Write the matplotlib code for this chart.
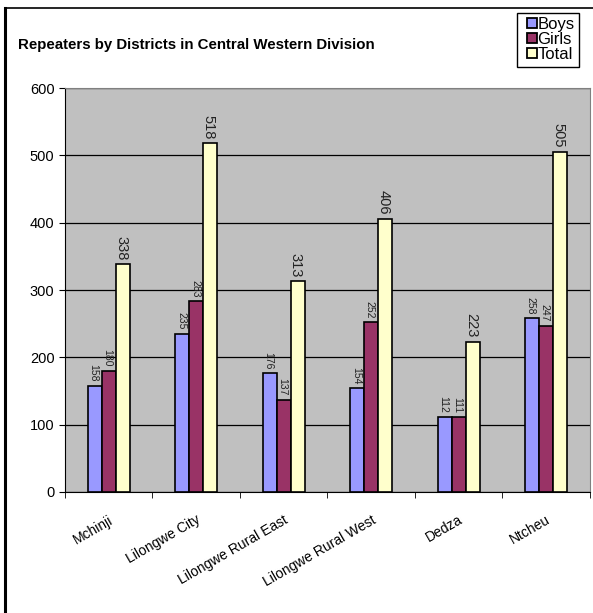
import matplotlib.pyplot as plt
import numpy as np
from matplotlib.lines import Line2D

districts = ['Mchinji', 'Lilongwe City', 'Lilongwe Rural East',
             'Lilongwe Rural West', 'Dedza', 'Ntcheu']
boys = [158, 235, 176, 154, 112, 258]
girls = [180, 283, 137, 252, 111, 247]
total = [338, 518, 313, 406, 223, 505]

plt.rcParams['font.family'] = ['Liberation Sans', 'DejaVu Sans']

fig = plt.figure(figsize=(5.93, 6.13), dpi=100)
ax = fig.add_axes([0.1096, 0.1974, 0.885, 0.659])
ax.set_facecolor('#C0C0C0')

x = np.arange(len(districts))
w = 0.16
colors = ['#9999FF', '#993366', '#FFFFCC']
series = [(boys, -w, 7.5), (girls, 0, 7.5), (total, w, 10.5)]
for (vals, off, fs), col in zip(series, colors):
    ax.bar(x + off, vals, w, color=col, edgecolor='black', linewidth=1.2, zorder=3)
    # value labels, rotated like the Excel original
    for xi, v in zip(x + off, vals):
        ax.annotate(str(v), (xi, v), xytext=(-fs * 0.12, 3), textcoords='offset points',
                    rotation=270, ha='center', va='bottom', fontsize=fs,
                    color='#222222', zorder=10)

ax.set_xlim(-0.5, len(districts) - 0.5)
ax.set_ylim(0, 600)
ax.set_yticks(range(0, 601, 100))
ax.yaxis.grid(True, color='black', linewidth=0.9, zorder=1)
ax.tick_params(axis='y', labelsize=10.5, direction='out', length=4)

ax.set_xticks(x)
ax.set_xticklabels(districts, rotation=30, ha='right', rotation_mode='anchor', fontsize=10)
ax.tick_params(axis='x', length=0, pad=15)
ax.set_xticks(np.arange(-0.5, len(districts)), minor=True)
ax.tick_params(axis='x', which='minor', length=4, direction='out')

for s in ['left', 'bottom']:
    ax.spines[s].set_color('black')
for s in ['top', 'right']:
    ax.spines[s].set_color('#808080')

fig.text(18 / 593, 1 - 45 / 613, 'Repeaters by Districts in Central Western Division',
         fontsize=10.8, fontweight='bold', va='center', ha='left')

handles = [Line2D([], [], linestyle='none', marker='s', markersize=6.5,
                  markerfacecolor=c, markeredgecolor='black', markeredgewidth=1.3)
           for c in colors]
ax.legend(handles, ['Boys', 'Girls', 'Total'], loc='upper left',
          bbox_to_anchor=(517 / 593, 1 - 13 / 613), bbox_transform=fig.transFigure,
          fontsize=12, frameon=True, fancybox=False, edgecolor='black',
          handlelength=1.27, handletextpad=-0.3, labelspacing=0.0,
          borderpad=0.26, borderaxespad=0, framealpha=1)

# outer frame lines (left and top only, as in the original)
fig.add_artist(Line2D([5 / 593, 5 / 593], [0, 1 - 8 / 613], color='black', linewidth=2.2))
fig.add_artist(Line2D([5 / 593, 1], [1 - 8 / 613, 1 - 8 / 613], color='black', linewidth=1.2))

fig.savefig('out.png', dpi=100)
